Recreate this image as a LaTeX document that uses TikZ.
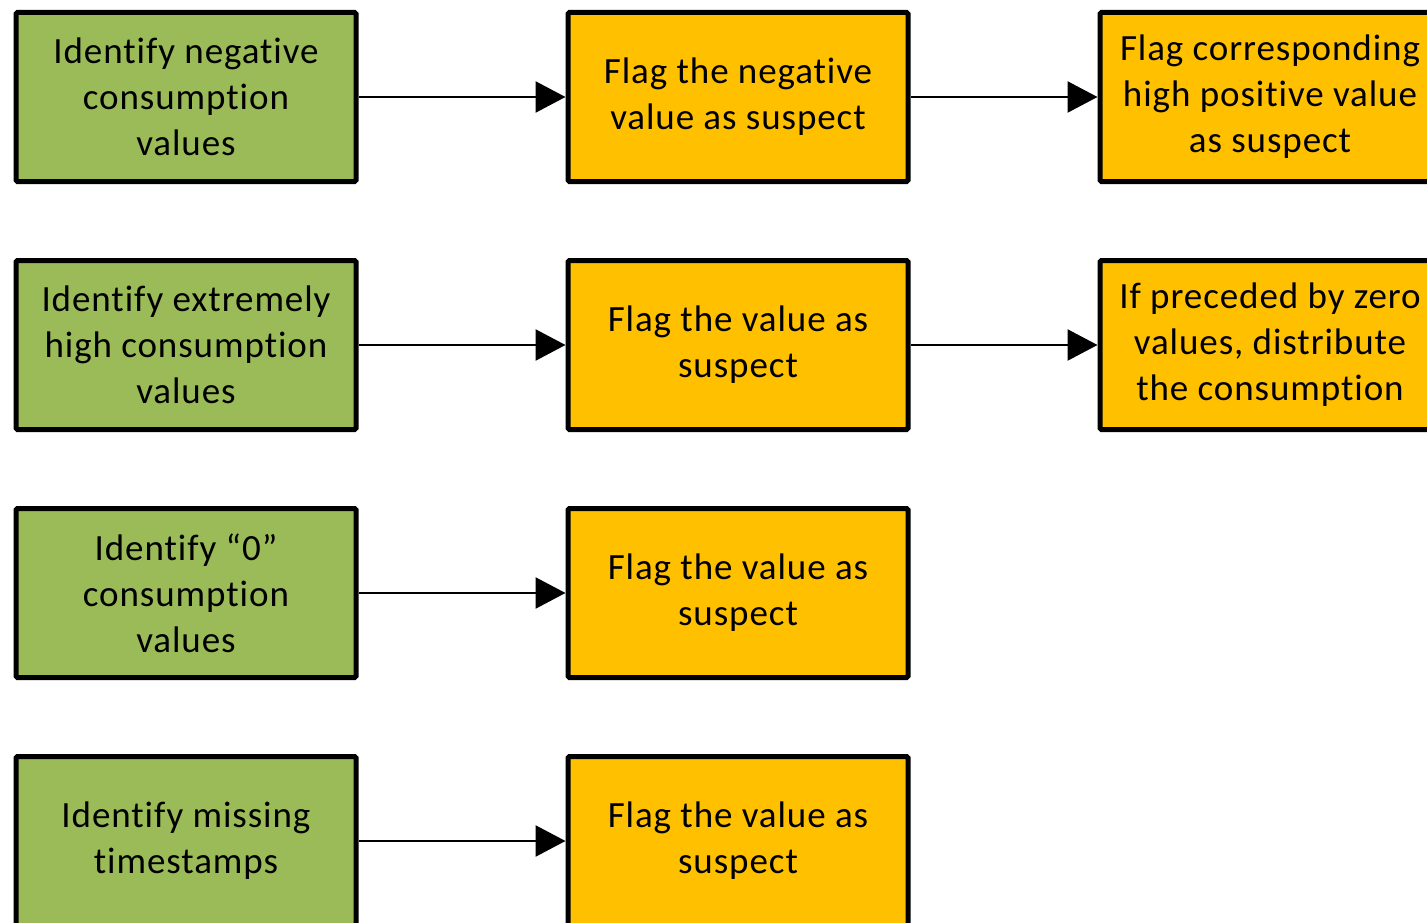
\documentclass[tikz,border=0pt]{standalone}
\usepackage{fontspec}
\setmainfont{Carlito}[LetterSpace=2.5,Ligatures=NoCommon]
\usetikzlibrary{arrows.meta}
\definecolor{boxgreen}{HTML}{9BBB59}
\definecolor{boxorange}{HTML}{FFC000}
\begin{document}
\begin{tikzpicture}[x=1pt,y=1pt,
  stepbox/.style={draw=black,line width=5pt,minimum width=340pt,minimum height=169pt,
    align=center,inner sep=0pt,rounded corners=1.5pt,font=\fontsize{37}{46}\selectfont},
  greenbox/.style={stepbox,fill=boxgreen},
  orangebox/.style={stepbox,fill=boxorange},
  link/.style={line width=2.5pt,-{Triangle[length=30pt,width=31pt]}}]
\useasboundingbox (0,0) rectangle (1427,-923);
\clip (0,0) rectangle (1427,-923);
\node[greenbox] (g1) at (186,-97) {Identify negative\\consumption\\values};
\node[greenbox] (g2) at (186,-345) {Identify extremely\\high consumption\\values};
\node[greenbox] (g3) at (186,-593) {Identify “0”\\consumption\\values};
\node[greenbox] (g4) at (186,-841) {Identify missing\\timestamps};
\node[orangebox] (o1) at (738,-97) {Flag the negative\\value as suspect};
\node[orangebox] (o2) at (738,-345) {Flag the value as\\suspect};
\node[orangebox] (o3) at (738,-593) {Flag the value as\\suspect};
\node[orangebox] (o4) at (738,-841) {Flag the value as\\suspect};
\node[orangebox] (r1) at (1270,-97) {Flag corresponding\\high positive value\\as suspect};
\node[orangebox] (r2) at (1270,-345) {If preceded by zero\\values, distribute\\the consumption};
\draw[link] (g1) -- (o1);
\draw[link] (g2) -- (o2);
\draw[link] (g3) -- (o3);
\draw[link] (g4) -- (o4);
\draw[link] (o1) -- (r1);
\draw[link] (o2) -- (r2);
\end{tikzpicture}
\end{document}
